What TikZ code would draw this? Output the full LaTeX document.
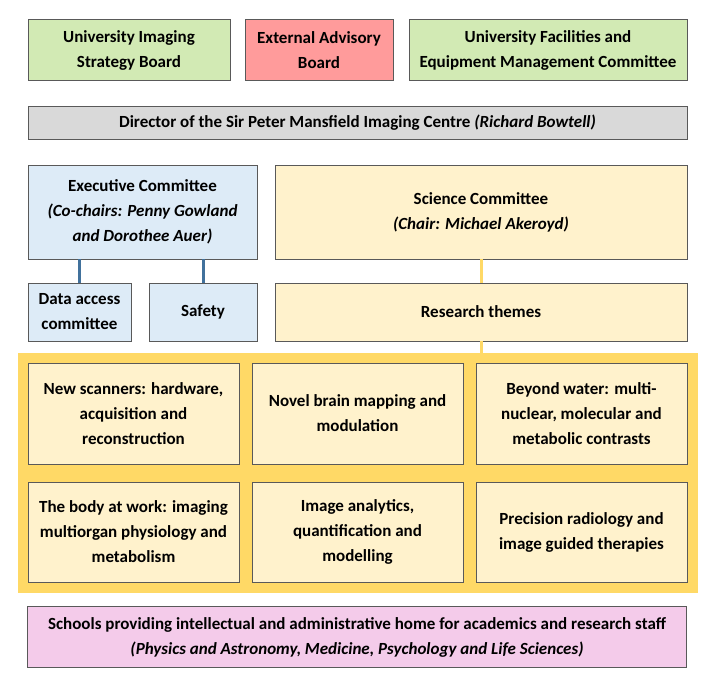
\documentclass[tikz,border=0pt]{standalone}
\usepackage{fontspec}
\setmainfont{Carlito}
\usetikzlibrary{positioning, fit}
\pgfdeclarelayer{bg}
\pgfsetlayers{bg,main}

\definecolor{boardgreen}{HTML}{D2EAB4}
\definecolor{advisred}{HTML}{FF9B9B}
\definecolor{directgrey}{HTML}{D9D9D9}
\definecolor{execblue}{HTML}{DDEBF7}
\definecolor{scicream}{HTML}{FFF2CC}
\definecolor{themegold}{HTML}{FFD966}
\definecolor{schoolpink}{HTML}{F4CBEA}
\definecolor{boxline}{HTML}{595959}
\definecolor{execlink}{HTML}{41719C}

\tikzset{
	box/.style={draw=boxline, line width=1pt, inner sep=2pt, outer sep=0pt, align=center,
		font=\bfseries\fontsize{17}{25}\selectfont},
	theme/.style={box, fill=scicream, minimum width=211pt, minimum height=101pt},
	link/.style={line width=3pt}
}

\begin{document}
\begin{tikzpicture}[x=1pt, y=-1pt]

		\useasboundingbox (0,0) rectangle (720,693);

		% boards %
		\node[box, fill=boardgreen, minimum width=202pt, minimum height=60pt, anchor=north west] (uisb) at (28,20) {University Imaging\\Strategy Board};
		\node[box, fill=advisred, minimum width=148pt, minimum height=60pt, right=15pt of uisb] (eab) {External Advisory\\Board};
		\node[box, fill=boardgreen, minimum width=278pt, minimum height=60pt, right=16pt of eab] (ufemc) {University Facilities and\\Equipment Management Committee};

		% director %
		\node[box, fill=directgrey, minimum width=659pt, minimum height=33pt, below=26pt of uisb.south west, anchor=north west] (dir) {Director of the Sir Peter Mansfield Imaging Centre \textit{(Richard Bowtell)}};

		% committees %
		\node[box, fill=execblue, minimum width=229pt, minimum height=94pt, below=26pt of dir.south west, anchor=north west] (exec) {Executive Committee\\\textit{(Co-chairs: Penny Gowland}\\\textit{and Dorothee Auer)}};
		\node[box, fill=scicream, minimum width=412pt, minimum height=94pt, right=18pt of exec] (sci) {Science Committee\\\textit{(Chair: Michael Akeroyd)}};
		\node[box, fill=execblue, minimum width=103pt, minimum height=58pt, below=24pt of exec.south west, anchor=north west] (data) {Data access\\committee};
		\node[box, fill=execblue, minimum width=108pt, minimum height=58pt, right=18pt of data] (safety) {Safety};
		\node[box, fill=scicream, minimum width=412pt, minimum height=58pt, right=18pt of safety] (themes) {Research themes};

		% research themes %
		\node[theme, below=22pt of data.south west, anchor=north west] (t1) {New scanners: hardware,\\acquisition and\\reconstruction};
		\node[theme, right=13pt of t1] (t2) {Novel brain mapping and\\modulation};
		\node[theme, right=13pt of t2] (t3) {Beyond water: multi-\\nuclear, molecular and\\metabolic contrasts};
		\node[theme, minimum height=100pt, below=18pt of t1] (t4) {The body at work: imaging\\multiorgan physiology and\\metabolism};
		\node[theme, minimum height=100pt, right=13pt of t4] (t5) {Image analytics,\\quantification and\\modelling};
		\node[theme, minimum height=100pt, right=13pt of t5] (t6) {Precision radiology and\\image guided therapies};
		\begin{pgfonlayer}{bg}
			\node[fit=(t1)(t6), inner sep=10.5pt, outer sep=0pt, fill=themegold] (frame) {};
		\end{pgfonlayer}

		% schools %
		\node[box, fill=schoolpink, minimum width=659pt, minimum height=61pt, below=14pt of frame.south west, anchor=north west, xshift=10pt] (schools) {Schools providing intellectual and administrative home for academics and research staff\\\textit{(Physics and Astronomy, Medicine, Psychology and Life Sciences)}};

		% edges %
		\draw[link, execlink] (data.north) -- (data.north |- exec.south);
		\draw[link, execlink] (safety.north) -- (safety.north |- exec.south);
		\draw[link, themegold] (sci) -- (themes);
		\draw[link, themegold] (themes.south) -- (themes.south |- frame.north);

\end{tikzpicture}
\end{document}
